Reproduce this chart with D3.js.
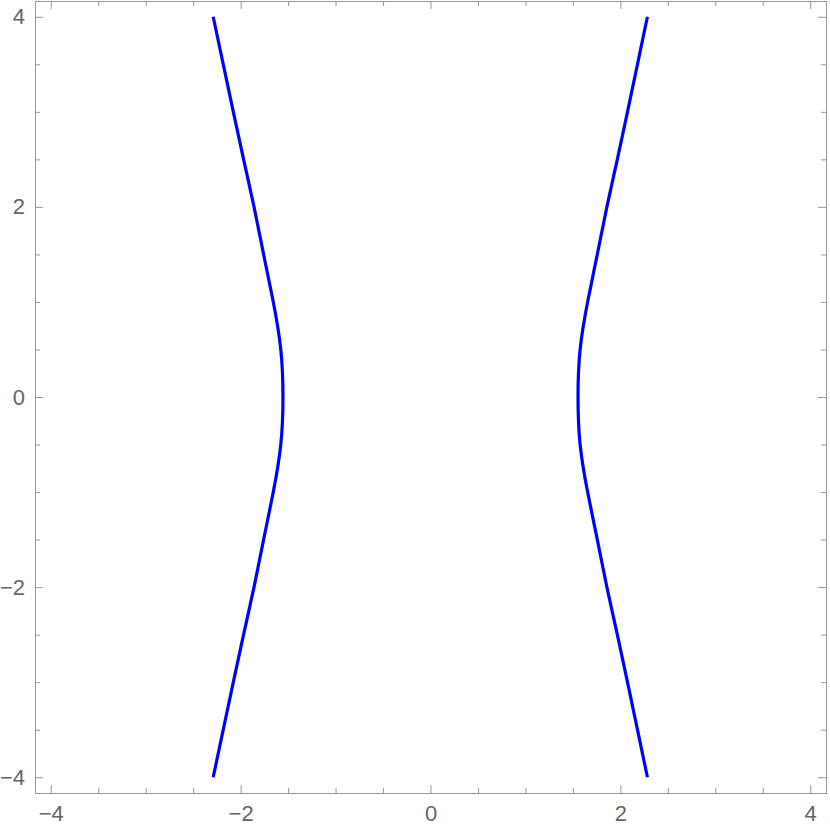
<!DOCTYPE html>
<html>
<head>
<meta charset="utf-8">
<script src="https://cdn.jsdelivr.net/npm/d3@7"></script>
<style>
  html, body { margin: 0; padding: 0; background: #fff; }
  svg { display: block; }
</style>
</head>
<body>
<script>
// ---- data ----
const yValues = [-4, -3.5, -3, -2.5, -2, -1.5, -1, -0.5, 0, 0.5, 1, 1.5, 2, 2.5, 3, 3.5, 4];
const rightX = [2.285, 2.18, 2.075, 1.968, 1.858, 1.757, 1.655, 1.576, 1.554,
                1.576, 1.655, 1.757, 1.858, 1.968, 2.075, 2.18, 2.285];
const leftX = [-2.289, -2.183, -2.077, -1.969, -1.859, -1.758, -1.656, -1.577, -1.554,
               -1.577, -1.656, -1.758, -1.859, -1.969, -2.077, -2.183, -2.289];
const majorTicks = [-4, -2, 0, 2, 4];
const minorTicks = [-3.5, -3, -2.5, -1.5, -1, -0.5, 0.5, 1, 1.5, 2.5, 3, 3.5];
const domainMin = -4.166, domainMax = 4.166;

// ---- layout ----
const W = 830, H = 833;
const mLeft = 35, mRight = 826, mTop = 1, mBottom = 793;

const svg = d3.select("body").append("svg").attr("width", W).attr("height", H);

const x = d3.scaleLinear().domain([domainMin, domainMax]).range([mLeft, mRight]);
const y = d3.scaleLinear().domain([domainMin, domainMax]).range([mBottom, mTop]);

const frameColor = "#999999";
const labelColor = "#666666";
const fmt = d => d3.format("d")(d).replace("-", "\u2212");

function styleAxis(g) {
  g.select(".domain").remove();
  g.attr("font-size", null).attr("font-family", null);
  g.selectAll(".tick line").attr("stroke", frameColor).attr("stroke-width", 1);
  g.selectAll(".tick text").attr("fill", labelColor)
    .style("font-family", "'Liberation Sans', Arial, sans-serif").style("font-size", "22px");
}

// major ticks (inward) with labels on bottom and left
svg.append("g").attr("transform", `translate(0,${mBottom})`)
  .call(d3.axisBottom(x).tickValues(majorTicks).tickSize(-8).tickPadding(12).tickFormat(fmt))
  .call(styleAxis);
svg.append("g").attr("transform", `translate(${mLeft},0)`)
  .call(d3.axisLeft(y).tickValues(majorTicks).tickSize(-8).tickPadding(10).tickFormat(fmt))
  .call(styleAxis);
// major ticks without labels on top and right
svg.append("g").attr("transform", `translate(0,${mTop})`)
  .call(d3.axisTop(x).tickValues(majorTicks).tickSize(-8).tickFormat(""))
  .call(styleAxis);
svg.append("g").attr("transform", `translate(${mRight},0)`)
  .call(d3.axisRight(y).tickValues(majorTicks).tickSize(-8).tickFormat(""))
  .call(styleAxis);
// minor ticks
svg.append("g").attr("transform", `translate(0,${mBottom})`)
  .call(d3.axisBottom(x).tickValues(minorTicks).tickSize(-5).tickFormat("")).call(styleAxis);
svg.append("g").attr("transform", `translate(${mLeft},0)`)
  .call(d3.axisLeft(y).tickValues(minorTicks).tickSize(-5).tickFormat("")).call(styleAxis);
svg.append("g").attr("transform", `translate(0,${mTop})`)
  .call(d3.axisTop(x).tickValues(minorTicks).tickSize(-5).tickFormat("")).call(styleAxis);
svg.append("g").attr("transform", `translate(${mRight},0)`)
  .call(d3.axisRight(y).tickValues(minorTicks).tickSize(-5).tickFormat("")).call(styleAxis);

// frame
svg.append("rect")
  .attr("x", mLeft + 0.5).attr("y", mTop + 0.5)
  .attr("width", mRight - mLeft).attr("height", mBottom - mTop)
  .attr("fill", "none").attr("stroke", frameColor).attr("stroke-width", 1);

// curves
const line = d3.line().x(d => x(d[0])).y(d => y(d[1])).curve(d3.curveNatural);
[rightX, leftX].forEach(xs => {
  const pts = xs.map((v, i) => [v, yValues[i]]);
  svg.append("path").datum(pts)
    .attr("d", line)
    .attr("fill", "none")
    .attr("stroke", "#0000ff")
    .attr("stroke-width", 3.2);
});
</script>
</body>
</html>
